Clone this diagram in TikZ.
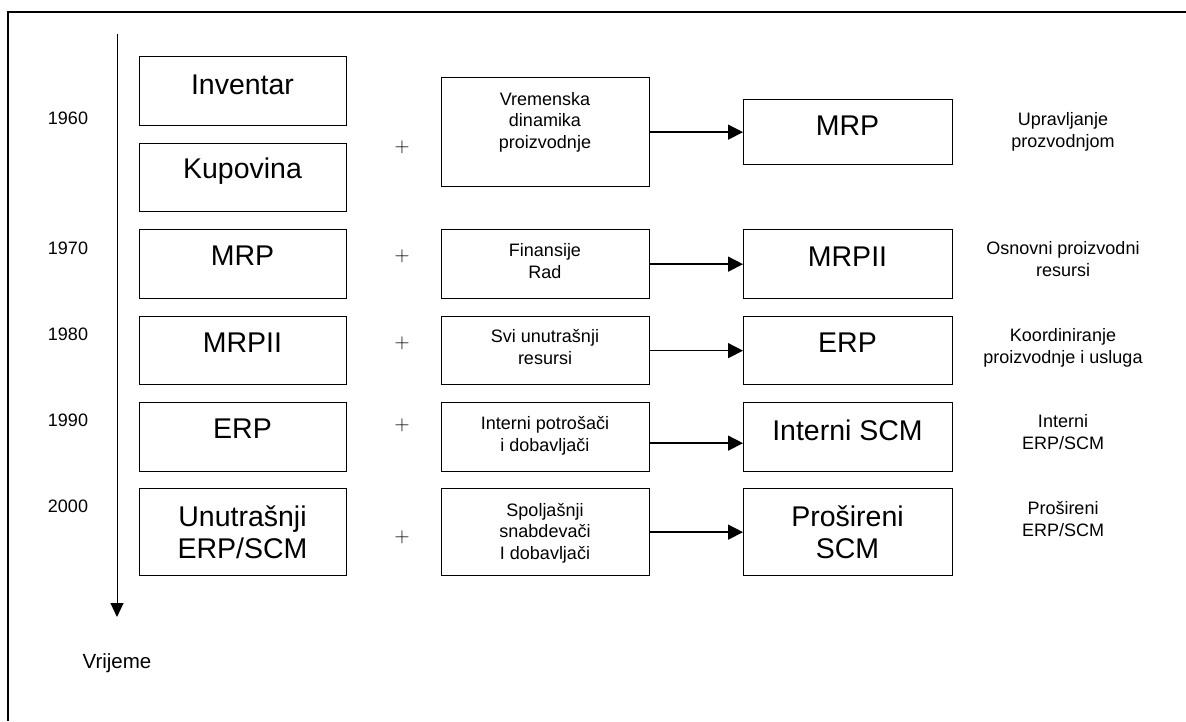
\documentclass[tikz,border=0pt]{standalone}
\usepackage{fontspec}
\setmainfont{Liberation Sans}
\usetikzlibrary{arrows.meta}
\begin{document}
\begin{tikzpicture}[x=1pt,y=-1pt,
  box/.style={draw, line width=1.3pt, inner sep=0pt, anchor=north west},
  lbox/.style={box, minimum width=207pt},
  mbox/.style={box, minimum width=208pt},
  rbox/.style={box, minimum width=209pt},
  bigtxt/.style={font=\fontsize{28.5}{32}\selectfont, anchor=base, inner sep=0pt, align=center},
  smalltxt/.style={font=\fontsize{18}{21.5}\selectfont, anchor=base, inner sep=0pt, align=center},
  yeartxt/.style={font=\fontsize{18}{21.5}\selectfont, anchor=base, inner sep=0pt},
  plustxt/.style={font=\fontsize{22}{22}\selectfont, inner sep=0pt},
  conn/.style={line width=1.5pt, -{Triangle[length=15pt,width=15pt]}},
  timeaxis/.style={line width=1pt, -{Triangle[length=14pt,width=13pt]}},
  frameline/.style={line width=1.3pt}
]
\useasboundingbox (0,0) rectangle (1186,721);
% frame
\draw[frameline] (8,721) -- (8,12) -- (1186,12);
% time axis
\coordinate (tTop) at (117,34);
\coordinate (tEnd) at (117,617);
\draw[timeaxis] (tTop) -- (tEnd);
\node[font=\fontsize{20.5}{24}\selectfont, anchor=base, inner sep=0pt] (vrijeme) at (117,668) {Vrijeme};
% years
\node[yeartxt] (y1) at (68,124) {1960};
\node[yeartxt] (y2) at (68,254) {1970};
\node[yeartxt] (y3) at (68,340) {1980};
\node[yeartxt] (y4) at (68,426) {1990};
\node[yeartxt] (y5) at (68,512) {2000};
% left boxes
\node[lbox, minimum height=69pt] (inv) at (139,56) {};
\node[lbox, minimum height=68pt] (kup) at (139,143) {};
\node[lbox, minimum height=69pt] (l2) at (139,229) {};
\node[lbox, minimum height=68pt] (l3) at (139,316) {};
\node[lbox, minimum height=69pt] (l4) at (139,402) {};
\node[lbox, minimum height=87pt] (l5) at (139,488) {};
\node[bigtxt] (tinv) at (242.5,94) {Inventar};
\node[bigtxt] (tkup) at (242.5,178) {Kupovina};
\node[bigtxt] (tl2) at (242.5,265) {MRP};
\node[bigtxt] (tl3) at (242.5,352) {MRPII};
\node[bigtxt] (tl4) at (242.5,438) {ERP};
\node[bigtxt] (tl5) at (242.5,558) {Unutrašnji\\ERP/SCM};
% plus signs
\node[plustxt] (p1) at (402,147) {$+$};
\node[plustxt] (p2) at (402,256) {$+$};
\node[plustxt] (p3) at (402,343) {$+$};
\node[plustxt] (p4) at (402,425) {$+$};
\node[plustxt] (p5) at (402,537) {$+$};
% middle boxes
\node[mbox, minimum height=109pt] (m1) at (441,77) {};
\node[mbox, minimum height=69pt] (m2) at (441,229) {};
\node[mbox, minimum height=68pt] (m3) at (441,316) {};
\node[mbox, minimum height=69pt] (m4) at (441,402) {};
\node[mbox, minimum height=87pt] (m5) at (441,488) {};
\node[smalltxt] (tm1) at (545,148) {Vremenska\\dinamika\\proizvodnje};
\node[smalltxt] (tm2) at (545,278) {Finansije\\Rad};
\node[smalltxt] (tm3) at (545,364) {Svi unutrašnji\\resursi};
\node[smalltxt] (tm4) at (545,451) {Interni potrošači\\i dobavljači};
\node[smalltxt] (tm5) at (545,559) {Spoljašnji\\snabdevači\\I dobavljači};
% right boxes
\node[rbox, minimum height=65pt] (r1) at (743,99) {};
\node[rbox, minimum height=69pt] (r2) at (743,229) {};
\node[rbox, minimum height=68pt] (r3) at (743,316) {};
\node[rbox, minimum height=69pt] (r4) at (743,402) {};
\node[rbox, minimum height=87pt] (r5) at (743,488) {};
\node[bigtxt] (tr1) at (847.5,135) {MRP};
\node[bigtxt] (tr2) at (847.5,266) {MRPII};
\node[bigtxt] (tr3) at (847.5,352) {ERP};
\node[bigtxt] (tr4) at (847.5,440) {Interni SCM};
\node[bigtxt] (tr5) at (847.5,558) {Prošireni\\SCM};
% connectors
\draw[conn] (m1.east) -- (r1.west);
\draw[conn] (m2.east) -- (r2.west);
\draw[conn] (m3.east) -- (r3.west);
\draw[conn] ([yshift=-6pt]m4.east) -- ([yshift=-6pt]r4.west);
\draw[conn] (m5.east) -- (r5.west);
% right descriptions
\node[smalltxt] (d1) at (1063,147) {Upravljanje\\prozvodnjom};
\node[smalltxt] (d2) at (1063,276) {Osnovni proizvodni\\resursi};
\node[smalltxt] (d3) at (1063,363) {Koordiniranje\\proizvodnje i usluga};
\node[smalltxt] (d4) at (1063,449) {Interni\\ERP/SCM};
\node[smalltxt] (d5) at (1063,536) {Prošireni\\ERP/SCM};
\end{tikzpicture}
\end{document}
